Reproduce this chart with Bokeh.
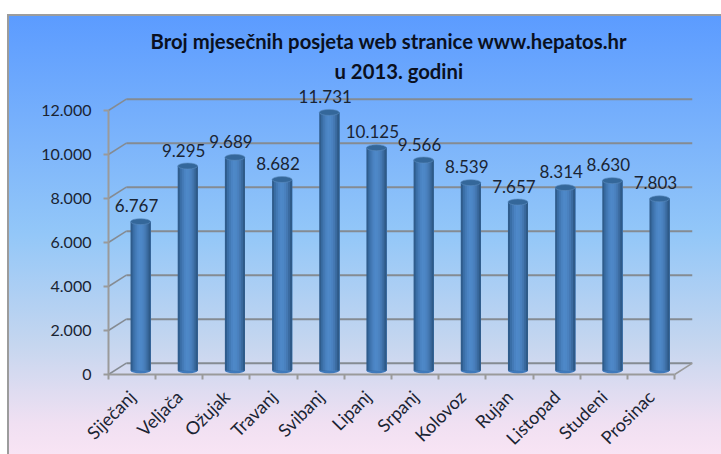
from bokeh.plotting import figure
from bokeh.embed import file_html
from bokeh.resources import INLINE
from bokeh.models import Range1d, LinearAxis, FixedTicker, Title

months = ["Siječanj", "Veljača", "Ožujak", "Travanj", "Svibanj", "Lipanj", "Srpanj",
          "Kolovoz", "Rujan", "Listopad", "Studeni", "Prosinac"]
visits = [6767, 9295, 9689, 8682, 11731, 10125, 9566, 8539, 7657, 8314, 8630, 7803]
visit_labels = ["6.767", "9.295", "9.689", "8.682", "11.731", "10.125", "9.566",
                "8.539", "7.657", "8.314", "8.630", "7.803"]
y_ticks = [0, 2000, 4000, 6000, 8000, 10000, 12000]
y_tick_labels = ["0", "2.000", "4.000", "6.000", "8.000", "10.000", "12.000"]
title_line1 = "Broj mjesečnih posjeta web stranice www.hepatos.hr"
title_line2 = "u 2013. godini"

FONT = "Lato"
DX = 0.38      # depth of the 3D box, x units
DY = 515       # depth of the 3D box, y units
PX_Y = 1000 / 22.0
PX_X = 1 / 47.2
BAR_W = 20 * PX_X
BAR_SHIFT = 0.18
BASE = 4 * PX_Y
CAP_H = 6 * PX_Y
GRID = "#858b92"
AXIS = "#9a9a9a"
TEXT = "#1a2433"

p = figure(width=714, height=440, output_backend="svg", toolbar_location=None,
           x_range=Range1d(-0.5 - 100 * PX_X, 11.5 + DX), y_range=Range1d(-80 * PX_Y, 12000 + 25 * PX_Y),
           x_axis_type=None, y_axis_type=None,
           min_border_left=1, min_border_right=29, min_border_top=71, min_border_bottom=0,
           background_fill_color=None, border_fill_color=None, outline_line_color=None,
           margin=(14, 0, 0, 7))
p.styles = {"background": "linear-gradient(180deg,#5b9bff 0%,#7db5fb 30%,#93c7f8 50%,#c5d6ef 75%,#f0e0f2 93%,#f8e4f4 100%)",
            "box-shadow": "inset 2px 2px 0 #9c9c9c"}

t2 = Title(text=title_line2, align="left", offset=326, standoff=6,
           text_font=FONT, text_font_size="20.3px", text_font_style="bold", text_color="#0a1020")
t1 = Title(text=title_line1, align="left", offset=142, standoff=1,
           text_font=FONT, text_font_size="20.3px", text_font_style="bold", text_color="#0a1020")
p.add_layout(t2, "above")
p.add_layout(t1, "above")

# 3D box: back-wall gridlines and the left/floor diagonals
x0, x1 = -0.5, 11.5
p.segment(x0=[x0 + DX] * len(y_ticks), x1=[x1 + DX] * len(y_ticks),
          y0=[t + DY for t in y_ticks], y1=[t + DY for t in y_ticks],
          line_color=GRID, line_width=2)
p.segment(x0=[x0] * len(y_ticks), x1=[x0 + DX] * len(y_ticks),
          y0=y_ticks, y1=[t + DY for t in y_ticks], line_color=GRID, line_width=1.5)
p.segment(x0=[x1], x1=[x1 + DX], y0=[0], y1=[DY], line_color=AXIS, line_width=1.5)

# cylinders: vertical shading strips with elliptical caps
shades = ["#2f5c8c", "#3a6ea6", "#4379b5", "#4a83c2", "#4e88c8", "#4d87c6",
          "#4a81bf", "#4478b2", "#3a6a9f", "#2e5a88"]
n = len(shades)
xs = [i + BAR_SHIFT for i in range(len(visits))]
tops = [v + BASE for v in visits]
p.ellipse(x=xs, y=[BASE] * len(xs), width=BAR_W, height=CAP_H, fill_color="#3f79bb", line_color=None)
for k, c in enumerate(shades):
    w = (n - k) / n * BAR_W
    p.vbar(x=[x + BAR_W / 2 - w / 2 for x in xs], width=w, bottom=BASE, top=tops,
           fill_color=c, line_color=None)
p.ellipse(x=xs, y=tops, width=BAR_W, height=CAP_H, fill_color="#34679a", line_color="#5a8cc0", line_width=0.6)

# value labels
p.text(x=xs, y=tops, text=visit_labels, x_offset=-4, y_offset=-16,
       text_align="center", text_baseline="middle", text_color=TEXT,
       text_font={"value": FONT}, text_font_size="17px")

# axes (pinned inside the wide frame so that labels are not clipped)
ya = LinearAxis(ticker=FixedTicker(ticks=y_ticks), bounds=(0, 12000), fixed_location=x0,
                major_label_overrides=dict(zip(y_ticks, y_tick_labels)))
ya.major_label_text_font = FONT
ya.major_label_text_font_size = "16px"
ya.major_label_text_color = TEXT
ya.major_label_standoff = 12
ya.major_tick_out = 5
ya.major_tick_in = 0
ya.major_tick_line_color = AXIS
ya.major_tick_line_width = 2
ya.axis_line_color = AXIS
ya.axis_line_width = 2
p.add_layout(ya, "left")

xt = LinearAxis(ticker=FixedTicker(ticks=[i - 0.5 for i in range(len(months) + 1)]),
                bounds=(x0, x1), fixed_location=0)
xt.major_label_text_color = None
xt.major_label_text_font_size = "1px"
xt.major_label_standoff = 0
xt.major_tick_out = 5
xt.major_tick_in = 0
xt.major_tick_line_color = AXIS
xt.major_tick_line_width = 2
xt.axis_line_color = AXIS
xt.axis_line_width = 2
p.add_layout(xt, "below")

xl = LinearAxis(ticker=FixedTicker(ticks=list(range(len(months)))),
                major_label_overrides={i: m for i, m in enumerate(months)},
                fixed_location=0)
xl.major_label_orientation = 0.785
xl.major_label_text_font = FONT
xl.major_label_text_font_size = "18px"
xl.major_label_text_color = TEXT
xl.major_label_standoff = 19
xl.major_tick_line_color = None
xl.major_tick_out = 0
xl.major_tick_in = 0
xl.axis_line_color = None
p.add_layout(xl, "below")

open("out.html", "w").write(file_html(p, INLINE))
